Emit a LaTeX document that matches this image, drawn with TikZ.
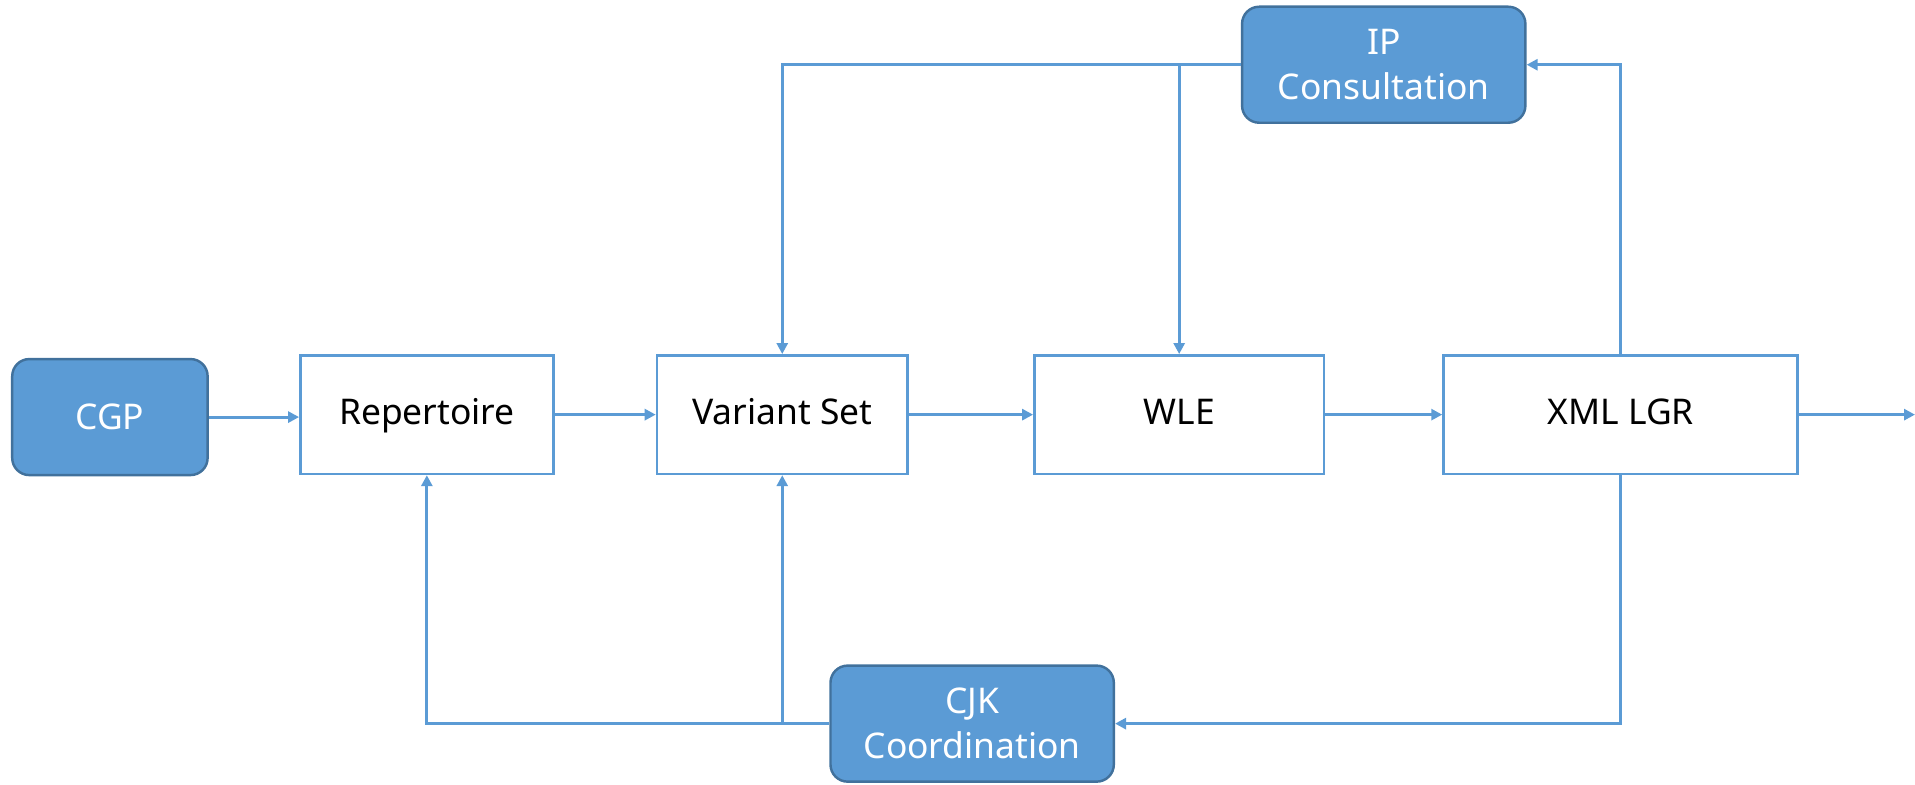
\documentclass[tikz,border=0pt]{standalone}
\usepackage{fontspec}
\setmainfont{Noto Sans}
\usetikzlibrary{arrows.meta}
\definecolor{lineblue}{HTML}{5B9BD5}
\definecolor{edgeblue}{HTML}{41719C}
\begin{document}
\begin{tikzpicture}[x=0.5pt,y=-0.5pt,
        stage/.style={draw=lineblue,line width=1.1pt,fill=white,minimum width=#1,minimum height=48.5pt,inner sep=0pt,text height=11pt,text depth=3pt,font=\fontsize{14.5}{17}\selectfont},
        party/.style={draw=edgeblue,line width=1pt,fill=lineblue,rounded corners=7pt,text=white,align=center,minimum width=#1,minimum height=47.5pt,inner sep=0pt,font=\fontsize{14.5}{18.5}\selectfont},
        flow/.style={draw=lineblue,line width=1.2pt,-{Triangle[length=4.5pt,width=4.5pt]}}]
        \useasboundingbox (0,0) rectangle (1568,642);
        \node[party=80pt] (cgp) at (90,341.5) {CGP};
        \node[stage=103.5pt] (rep) at (349.5,339.5) {Repertoire};
        \node[stage=102.5pt] (var) at (640.5,339.5) {Variant Set};
        \node[stage=118.5pt] (wle) at (965.5,339.5) {WLE};
        \node[stage=145pt] (xml) at (1327,339.5) {XML LGR};
        \node[party=116pt] (ip) at (1133,53) {IP\\Consultation};
        \node[party=116pt] (cjk) at (796,592.5) {CJK\\Coordination};
        \coordinate (out) at (1568,339.5);
        \draw[flow] (cgp.east) -- (rep.west |- cgp.east);
        \draw[flow] (rep) -- (var);
        \draw[flow] (var) -- (wle);
        \draw[flow] (wle) -- (xml);
        \draw[flow] (xml) -- (out);
        \draw[flow] (ip.west) -| (var.north);
        \draw[flow] (ip.west -| wle.north) -- (wle.north);
        \draw[flow] (xml.north) |- (ip.east);
        \draw[flow] (xml.south) |- (cjk.east);
        \draw[flow] (cjk.west) -| (rep.south);
        \draw[flow] (cjk.west -| var.south) -- (var.south);
\end{tikzpicture}
\end{document}
